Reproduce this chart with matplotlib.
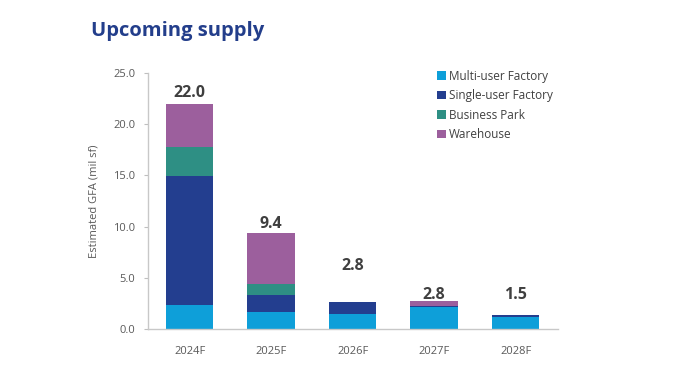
import matplotlib
matplotlib.use("Agg")
import matplotlib.pyplot as plt
import numpy as np

plt.rcParams['font.family'] = ['Open Sans', 'DejaVu Sans']

categories = ["2024F", "2025F", "2026F", "2027F", "2028F"]
series_names = ["Multi-user Factory", "Single-user Factory", "Business Park", "Warehouse"]
multi_user = [2.35, 1.7, 1.5, 2.1, 1.15]
single_user = [12.6, 1.65, 1.15, 0.15, 0.22]
business_park = [2.85, 1.0, 0.0, 0.0, 0.0]
warehouse = [4.2, 5.05, 0.0, 0.45, 0.0]
total_labels = ["22.0", "9.4", "2.8", "2.8", "1.5"]
label_centers = [23.05, 10.25, 6.2, 3.3, 3.35]
y_ticks = [0.0, 5.0, 10.0, 15.0, 20.0, 25.0]

colors = ["#0e9fd9", "#233e8f", "#2e8f84", "#9c5f9d"]

fig = plt.figure(figsize=(6.92, 3.89), dpi=100)
ax = fig.add_axes([148/692, 1-329/389, (558-148)/692, (329-73)/389])

x = np.arange(len(categories))
bottom = np.zeros(len(categories))
for vals, name, c in zip([multi_user, single_user, business_park, warehouse], series_names, colors):
    ax.bar(x, vals, 0.58, bottom=bottom, color=c, label=name)
    bottom += np.array(vals)

for xi, lab, h in zip(x, total_labels, label_centers):
    ax.text(xi, h, lab, ha='center', va='center', fontsize=11.5,
            fontweight='bold', color='#3f3f3f')

ax.set_xlim(-0.51, 4.52)
ax.set_ylim(0, 25)
ax.set_yticks(y_ticks)
ax.set_yticklabels([f"{t:.1f}" for t in y_ticks])
ax.set_xticks(x)
ax.set_xticklabels(categories)
ax.tick_params(axis='y', length=3, color='#bfbfbf', labelsize=8, labelcolor='#595959', pad=6)
ax.tick_params(axis='x', length=0, labelsize=8, labelcolor='#595959', pad=12)
for s in ['top', 'right']:
    ax.spines[s].set_visible(False)
for s in ['left', 'bottom']:
    ax.spines[s].set_color('#c8c8c8')
    ax.spines[s].set_linewidth(1.0)
ax.set_ylabel("Estimated GFA (mil sf)", fontsize=8, color='#595959', labelpad=10)

leg = ax.legend(loc='upper left', bbox_to_anchor=(0.68, 1.055), frameon=False,
                fontsize=8.5, handlelength=0.7, handleheight=0.7, handletextpad=0.3,
                labelspacing=0.55, labelcolor='#404040')

fig.text(91/692, 1-31/389, "Upcoming supply", fontsize=14.5, fontweight='bold',
         color='#233e8b', ha='left', va='center')

fig.savefig("out.png", dpi=100)
